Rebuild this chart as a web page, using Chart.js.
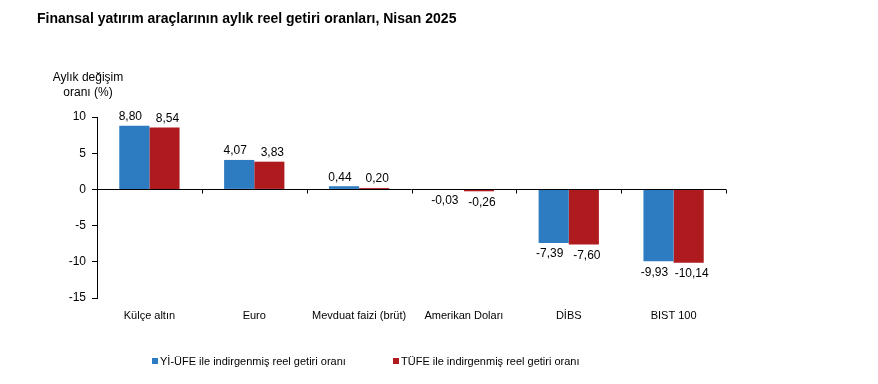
<!DOCTYPE html>
<html>
<head>
<meta charset="utf-8">
<script src="https://cdn.jsdelivr.net/npm/chart.js@4"></script>
<style>
  html, body { margin: 0; padding: 0; background: #fff; }
  #wrap { width: 878px; height: 384px; position: relative; }
</style>
</head>
<body>
<div id="wrap"><canvas id="chart" width="878" height="384"></canvas></div>
<script>
const categories = ["Külçe altın", "Euro", "Mevduat faizi (brüt)", "Amerikan Doları", "DİBS", "BIST 100"];
const yiufeValues = [8.80, 4.07, 0.44, -0.03, -7.39, -9.93];
const tufeValues = [8.54, 3.83, 0.20, -0.26, -7.60, -10.14];
const seriesNames = ["Yİ-ÜFE ile indirgenmiş reel getiri oranı", "TÜFE ile indirgenmiş reel getiri oranı"];
const yTicks = [10, 5, 0, -5, -10, -15];

const FONT = "'Liberation Sans', Arial, sans-serif";
const BLUE = "#2D7CC1";
const RED = "#AE1A1E";

const extras = {
  id: "extras",
  afterDatasetsDraw(chart) {
    const ctx = chart.ctx;
    const area = chart.chartArea;
    const y = chart.scales.y;
    const zero = Math.round(y.getPixelForValue(0)) + 0.5;

    ctx.save();
    ctx.strokeStyle = "#000";
    ctx.lineWidth = 1;
    // zero line over the bars, with small tick marks
    ctx.beginPath();
    ctx.moveTo(area.left, zero);
    ctx.lineTo(area.right, zero);
    ctx.stroke();
    const step = (area.right - area.left) / categories.length;
    for (let i = 1; i <= categories.length; i++) {
      const px = Math.round(area.left + step * i) + 0.5;
      ctx.beginPath();
      ctx.moveTo(px, zero);
      ctx.lineTo(px, zero + 4);
      ctx.stroke();
    }

    // value labels
    ctx.font = "12px " + FONT;
    ctx.fillStyle = "#000";
    ctx.textAlign = "center";
    chart.data.datasets.forEach((ds, di) => {
      const meta = chart.getDatasetMeta(di);
      const shift = di === 0 ? -4 : 3;
      meta.data.forEach((bar, i) => {
        const v = ds.data[i];
        const txt = v.toFixed(2).replace(".", ",");
        if (v >= 0) {
          ctx.textBaseline = "bottom";
          ctx.fillText(txt, bar.x + shift, bar.y - 3);
        } else {
          ctx.textBaseline = "top";
          ctx.fillText(txt, bar.x + shift, bar.y + 5);
        }
      });
    });

    // title
    ctx.textAlign = "left";
    ctx.textBaseline = "alphabetic";
    ctx.font = "bold 14px " + FONT;
    ctx.fillText("Finansal yatırım araçlarının aylık reel getiri oranları, Nisan 2025", 37, 23);

    // y axis title
    ctx.font = "12px " + FONT;
    ctx.textAlign = "center";
    ctx.fillText("Aylık değişim", 88, 81);
    ctx.fillText("oranı (%)", 88, 96);

    // legend
    ctx.textAlign = "left";
    ctx.font = "11px " + FONT;
    const items = [
      { x: 152, color: BLUE, text: seriesNames[0] },
      { x: 393, color: RED, text: seriesNames[1] }
    ];
    items.forEach(it => {
      ctx.fillStyle = it.color;
      ctx.fillRect(it.x, 358, 6, 6);
      ctx.fillStyle = "#000";
      ctx.fillText(it.text, it.x + 8, 365);
    });
    ctx.restore();
  }
};

new Chart(document.getElementById("chart"), {
  type: "bar",
  data: {
    labels: categories,
    datasets: [
      { label: seriesNames[0], data: yiufeValues, backgroundColor: BLUE, borderWidth: 0, barPercentage: 1, categoryPercentage: 0.575 },
      { label: seriesNames[1], data: tufeValues, backgroundColor: RED, borderWidth: 0, barPercentage: 1, categoryPercentage: 0.575 }
    ]
  },
  options: {
    responsive: false,
    animation: false,
    layout: { padding: { left: 40, top: 117, right: 152, bottom: 50 } },
    plugins: { legend: { display: false }, tooltip: { enabled: false } },
    scales: {
      x: {
        grid: { display: false },
        border: { display: false },
        ticks: { color: "#000", font: { family: FONT, size: 11 }, padding: 3, maxRotation: 0, autoSkip: false },
        afterFit: s => { s.height = 384 - 298 - 50; }
      },
      y: {
        min: -15,
        max: 10,
        afterBuildTicks: s => { s.ticks = yTicks.map(v => ({ value: v })); },
        afterFit: s => { s.width = 97 - 40; },
        border: { display: true, color: "#000", width: 1 },
        grid: {
          color: "rgba(0,0,0,0)",
          tickColor: "#000",
          tickLength: 5,
          drawTicks: true
        },
        ticks: { color: "#000", font: { family: FONT, size: 12 }, padding: 6 }
      }
    }
  },
  plugins: [extras]
});
</script>
</body>
</html>
